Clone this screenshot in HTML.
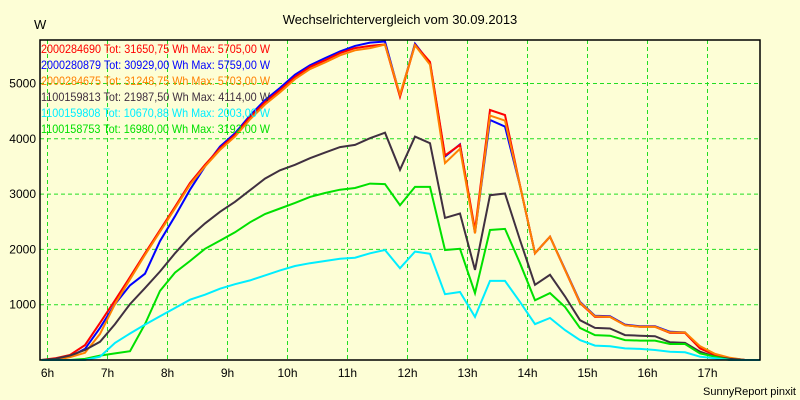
<!DOCTYPE html>
<html><head><meta charset="utf-8"><style>
body{margin:0;background:#fdfed6;}
svg{display:block;font-family:"Liberation Sans",Arial,sans-serif;}
</style></head><body>
<svg id="chart" width="800" height="400" viewBox="0 0 800 400">
<rect x="0" y="0" width="800" height="400" fill="#fdfed6"/>
<text x="400" y="24" text-anchor="middle" font-size="13" fill="#000">Wechselrichtervergleich vom 30.09.2013</text>
<text x="34" y="29" font-size="13" fill="#000">W</text>
<text x="796" y="395" text-anchor="end" font-size="11" fill="#000">SunnyReport pinxit</text>
<g id="grid"></g>
<g id="series"></g>
<g id="axes"></g>
<g id="legend"></g>
</svg>
<script>
const times = [5.9,6.125,6.375,6.625,6.875,7.125,7.375,7.625,7.875,8.125,8.375,8.625,8.875,9.125,9.375,9.625,9.875,10.125,10.375,10.625,10.875,11.125,11.375,11.625,11.875,12.125,12.375,12.625,12.875,13.125,13.375,13.625,13.875,14.125,14.375,14.625,14.875,15.125,15.375,15.625,15.875,16.125,16.375,16.625,16.875,17.125,17.375,17.625,17.875];
const redVals = [0,30,90,270,670,1080,1500,1930,2350,2770,3200,3530,3830,4070,4390,4660,4880,5120,5300,5420,5550,5640,5680,5705,4760,5700,5390,3700,3890,2350,4520,4430,3160,1930,2230,1630,1030,780,780,630,600,600,490,490,210,90,30,0,0];
const blueVals = [0,0,60,200,580,1010,1350,1560,2150,2600,3080,3500,3860,4100,4420,4700,4920,5160,5330,5460,5580,5680,5740,5759,4780,5720,5370,3680,3900,2300,4340,4220,3150,1930,2230,1640,1050,800,790,640,610,610,510,500,220,90,30,0,0];
const orangeVals = [0,0,50,130,470,1010,1460,1900,2320,2740,3170,3500,3800,4040,4350,4620,4840,5080,5260,5380,5510,5600,5640,5703,4800,5690,5340,3560,3820,2290,4420,4330,3150,1930,2230,1630,1040,790,780,630,600,600,500,500,250,110,40,0,0];
const darkVals = [0,20,80,180,330,650,1010,1300,1600,1930,2230,2470,2680,2860,3070,3280,3430,3530,3650,3750,3850,3890,4010,4110,3440,4040,3920,2570,2650,1630,2980,3010,2170,1360,1540,1150,720,580,570,450,440,430,320,310,150,60,20,0,0];
const greenVals = [0,0,0,20,80,120,160,650,1250,1580,1790,2010,2160,2310,2490,2640,2740,2840,2950,3020,3080,3110,3190,3180,2800,3130,3130,1990,2010,1210,2350,2370,1750,1080,1210,960,580,450,440,360,350,350,290,290,120,60,0,0,0];
const cyanVals = [0,0,0,0,60,310,480,640,790,940,1090,1180,1290,1370,1440,1530,1620,1700,1750,1790,1830,1850,1930,1990,1660,1960,1920,1190,1230,780,1430,1430,1050,650,760,540,360,260,250,210,200,180,150,140,60,30,0,0,0];
const yTicks = [1000,2000,3000,4000,5000];
const xTicks = [6,7,8,9,10,11,12,13,14,15,16,17];
const xTickLabels = ["6h","7h","8h","9h","10h","11h","12h","13h","14h","15h","16h","17h"];
const legendLabels = ["2000284690 Tot: 31650,75 Wh Max: 5705,00 W","2000280879 Tot: 30929,00 Wh Max: 5759,00 W","2000284675 Tot: 31248,75 Wh Max: 5703,00 W","1100159813 Tot: 21987,50 Wh Max: 4114,00 W","1100159808 Tot: 10670,88 Wh Max: 2003,00 W","1100158753 Tot: 16980,00 Wh Max: 3192,00 W"];

const NS="http://www.w3.org/2000/svg";
const L=40,R=760,T=40,B=360;
function xs(t){return 47.5+(t-6)*60;}
function ys(v){return 360-v*0.0553;}
function mk(tag,parent){const e=document.createElementNS(NS,tag);parent.appendChild(e);return e;}
const grid=document.getElementById('grid');
yTicks.forEach(v=>{
  const l=mk('line',grid);
  
  
  l.setAttribute('x1',L);l.setAttribute('x2',R);l.setAttribute('y1',ys(v));l.setAttribute('y2',ys(v));
  l.setAttribute('stroke','#22dd22');l.setAttribute('stroke-dasharray','4,3');
  const t=mk('text',grid);
  
  
  t.setAttribute('x',36);t.setAttribute('y',ys(v)+4);t.setAttribute('text-anchor','end');t.setAttribute('font-size','12');
  t.textContent=v;
});
xTicks.forEach((h,i)=>{
  const l=mk('line',grid);
  
  
  l.setAttribute('x1',xs(h));l.setAttribute('x2',xs(h));l.setAttribute('y1',T);l.setAttribute('y2',B);
  l.setAttribute('stroke','#22dd22');l.setAttribute('stroke-dasharray','4,3');
  const t=mk('text',grid);
  
  
  t.setAttribute('x',xs(h));t.setAttribute('y',377);t.setAttribute('text-anchor','middle');t.setAttribute('font-size','12');
  t.textContent=xTickLabels[i];
});
const series=[
  {name:'series-2000280879',vals:blueVals,color:'#0000ff'},
  {name:'series-2000284690',vals:redVals,color:'#ff0000'},
  {name:'series-2000284675',vals:orangeVals,color:'#ff8000'},
  {name:'series-1100159813',vals:darkVals,color:'#403040'},
  {name:'series-1100158753',vals:greenVals,color:'#00e000'},
  {name:'series-1100159808',vals:cyanVals,color:'#00eeff'}
];
const sg=document.getElementById('series');
series.forEach(s=>{
  const p=mk('polyline',sg);
  
  
  p.setAttribute('points',times.map((t,i)=>xs(t).toFixed(1)+','+ys(s.vals[i]).toFixed(1)).join(' '));
  p.setAttribute('fill','none');p.setAttribute('stroke',s.color);p.setAttribute('stroke-width','2');
});
const ax=document.getElementById('axes');
const fr=mk('rect',ax);


fr.setAttribute('x',L);fr.setAttribute('y',T);fr.setAttribute('width',R-L);fr.setAttribute('height',B-T);
fr.setAttribute('fill','none');fr.setAttribute('stroke','#000');fr.setAttribute('stroke-width','1.5');
const lg=document.getElementById('legend');
const lcol=['#ff0000','#0000ff','#ff8000','#403040','#00eeff','#00e000'];
legendLabels.forEach((s,i)=>{
  const t=mk('text',lg);
  
  
  t.setAttribute('x',41);t.setAttribute('y',53+i*16);t.setAttribute('font-size','12');
  t.setAttribute('fill',lcol[i]);t.setAttribute('textLength','229');t.setAttribute('lengthAdjust','spacingAndGlyphs');
  t.textContent=s;
});
</script>
</body></html>
